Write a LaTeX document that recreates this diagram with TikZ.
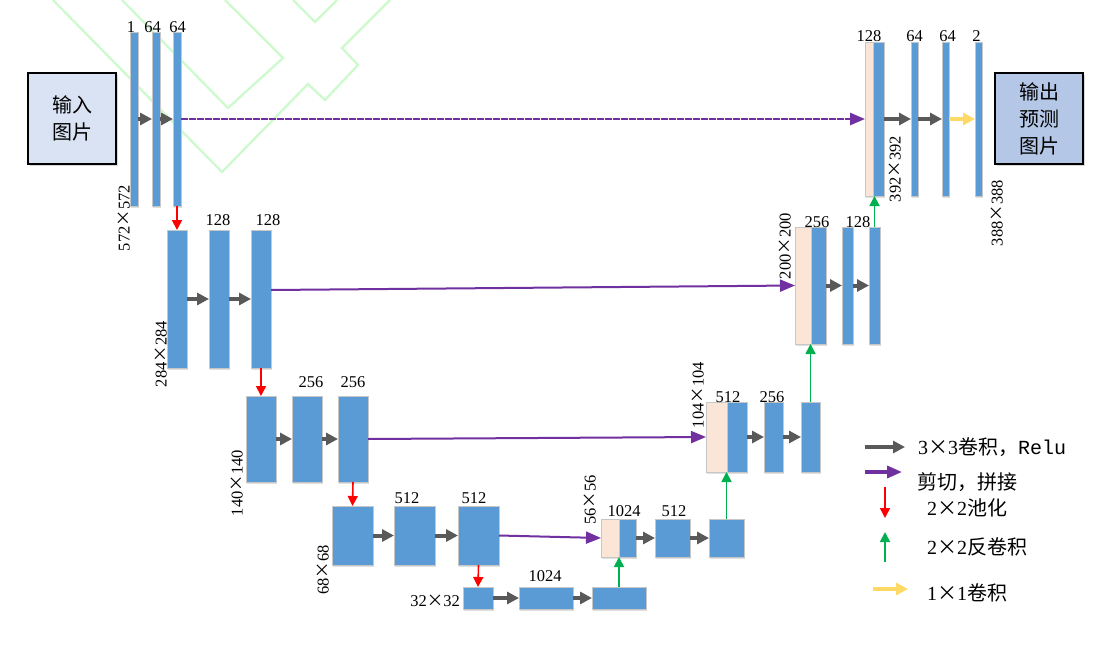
\documentclass[tikz,border=0pt]{standalone}
\usepackage{fontspec}
\setmainfont{Liberation Serif}
\newfontfamily\cjk{Noto Sans CJK SC}
\newfontfamily\monof{Liberation Mono}
\usetikzlibrary{arrows.meta,fit,shadows}
\definecolor{barblue}{HTML}{5B9BD5}
\definecolor{peach}{HTML}{FBE5D6}
\definecolor{convgray}{HTML}{595959}
\definecolor{cpurple}{HTML}{7030A0}
\definecolor{pgreen}{HTML}{00B050}
\definecolor{pyellow}{HTML}{FFD966}
\definecolor{pred}{HTML}{FF0000}
\definecolor{inboxc}{HTML}{DAE3F3}
\definecolor{outboxc}{HTML}{B4C7E7}
\definecolor{bggreen}{HTML}{CCFACC}
\newcommand\tms{{\cjk ×}}
\tikzset{
  bar/.style={fill=barblue, draw=black!22, line width=0.9pt, inner sep=0pt, outer sep=0pt,
    drop shadow={shadow xshift=1pt, shadow yshift=-1.5pt, opacity=0.25}},
  cropbar/.style={bar, fill=peach},
  conv/.style={draw=convgray, line width=4pt, -{Triangle[length=12pt,width=12pt]}},
  skipc/.style={draw=cpurple, line width=2pt, -{Triangle[length=15pt,width=12pt]}},
  skipd/.style={skipc, line width=2.6pt, dash pattern=on 7pt off 1pt},
  pool/.style={draw=pred, line width=1.6pt, -{Triangle[length=10pt,width=10pt]}},
  upc/.style={draw=pgreen, line width=1.8pt, -{Triangle[length=10pt,width=10pt]}},
  onec/.style={draw=pyellow, line width=3.5pt, -{Triangle[length=12pt,width=12pt]}},
  num/.style={font=\fontsize{16.5}{19}\selectfont, inner sep=0pt, anchor=base},
  dimlab/.style={font=\fontsize{16.5}{19}\selectfont, inner sep=0pt, rotate=90},
  legtext/.style={font=\fontsize{20}{23}\selectfont, inner sep=0pt, anchor=west},
  iobox/.style={draw=black, line width=2pt, minimum width=88pt, minimum height=91pt,
    inner sep=0pt, align=center, font=\cjk\fontsize{20}{27}\selectfont,
    drop shadow={shadow xshift=1.5pt, shadow yshift=-1.5pt, opacity=0.3}},
  bgline/.style={draw=bggreen, line width=2.2pt}
}
\begin{document}
\begin{tikzpicture}[x=1pt,y=-1pt]
\useasboundingbox[fill=white] (0,0) rectangle (1106,653);
% background decoration
\draw[bgline] (53,0) -- (222,172) -- (308,84) -- (325,100) -- (358,65) -- (342,48) -- (390,0);
\draw[bgline] (122,0) -- (228,108) -- (283,58) -- (225,0);
\draw[bgline] (293,0) -- (315,22) -- (337,0);

% input / output boxes
\node[iobox, fill=inboxc] (in) at (72,118.5) {输入\\图片};
\node[iobox, fill=outboxc] (out) at (1039,118.5) {输出\\预测\\图片};

% level 1
\node[bar, fit={(130,32) (138,206)}] (a1) {};
\node[bar, fit={(152,32) (160,206)}] (a2) {};
\node[bar, fit={(173,32) (181,206)}] (a3) {};
% level 2
\node[bar, fit={(167,230) (187,368)}] (b1) {};
\node[bar, fit={(209,230) (229,368)}] (b2) {};
\node[bar, fit={(251,230) (271,368)}] (b3) {};
% level 3
\node[bar, fit={(246,396) (276,482)}] (c1) {};
\node[bar, fit={(292,396) (322,482)}] (c2) {};
\node[bar, fit={(338,396) (368,482)}] (c3) {};
% level 4
\node[bar, fit={(332,506) (373,565)}] (d1) {};
\node[bar, fit={(394,506) (435,565)}] (d2) {};
\node[bar, fit={(458,506) (499,565)}] (d3) {};
% level 5
\node[bar, fit={(463,587) (493,609)}] (e1) {};
\node[bar, fit={(519,587) (573,609)}] (e2) {};
\node[bar, fit={(592,587) (646,609)}] (e3) {};
% up 4
\node[cropbar, fit={(601,519) (619,557)}] (u4c) {};
\node[bar, fit={(619,519) (636,557)}] (u4b) {};
\node[bar, fit={(655,519) (690,557)}] (u4b2) {};
\node[bar, fit={(709,519) (744,557)}] (u4b3) {};
% up 3
\node[cropbar, fit={(706,402) (727,472)}] (u3c) {};
\node[bar, fit={(727,402) (747,472)}] (u3b) {};
\node[bar, fit={(764,402) (783,472)}] (u3b2) {};
\node[bar, fit={(801,402) (820,472)}] (u3b3) {};
% up 2
\node[cropbar, fit={(795,227) (811,344)}] (u2c) {};
\node[bar, fit={(811,227) (826,344)}] (u2b) {};
\node[bar, fit={(842,227) (853,344)}] (u2b2) {};
\node[bar, fit={(869,227) (880,344)}] (u2b3) {};
% up 1
\node[cropbar, fit={(865,42) (873,196)}] (u1c) {};
\node[bar, fit={(873,42) (884,196)}] (u1b) {};
\node[bar, fit={(911,42) (918,196)}] (u1b2) {};
\node[bar, fit={(942,42) (949,196)}] (u1b3) {};
\node[bar, fit={(975,42) (982,196)}] (u1b4) {};

% conv arrows
\draw[conv] (a1.east) -- (a2.west);
\draw[conv] (a2.east) -- (a3.west);
\draw[conv] (b1.east) -- (b2.west);
\draw[conv] (b2.east) -- (b3.west);
\draw[conv] (c1.east) -- (c2.west);
\draw[conv] (c2.east) -- (c3.west);
\draw[conv] (d1.east) -- (d2.west);
\draw[conv] (d2.east) -- (d3.west);
\draw[conv] (e1.east) -- (e2.west);
\draw[conv] (e2.east) -- (e3.west);
\draw[conv] (u4b.east) -- (u4b2.west);
\draw[conv] (u4b2.east) -- (u4b3.west);
\draw[conv] (u3b.east) -- (u3b2.west);
\draw[conv] (u3b2.east) -- (u3b3.west);
\draw[conv] (u2b.east) -- (u2b2.west);
\draw[conv] (u2b2.east) -- (u2b3.west);
\draw[conv] (u1b.east) -- (u1b2.west);
\draw[conv] (u1b2.east) -- (u1b3.west);
\draw[onec] (u1b3.east) -- (u1b4.west);

% skip connections
\draw[skipd] (a3.east) -- (u1c.west);
\draw[skipc] ([yshift=9pt]b3.east) -- (u2c.west);
\draw[skipc] (c3.east) -- (u3c.west);
\draw[skipc] (d3.east) -- (u4c.west);

% pooling
\draw[pool] (a3.south) -- (b1.north);
\draw[pool] (b3.south) -- (c1.north);
\draw[pool] (c3.south) -- (d1.north);
\draw[pool] (d3.south) -- (e1.north);

% up-convolutions
\draw[upc] (e3.north) -- (e3.north |- u4c.south);
\draw[upc] (u4b3.north) -- (u4b3.north |- u3c.south);
\draw[upc] (u3b3.north) -- (u3b3.north |- u2c.south);
\draw[upc] (u2b3.north) -- (u2b3.north |- u1c.south);

% channel labels
\node[num] (n1) at (131,32) {1};
\node[num] (n2) at (152.5,32) {64};
\node[num] (n3) at (177.5,32) {64};
\node[num] (n4) at (218,225) {128};
\node[num] (n5) at (268,225) {128};
\node[num] (n6) at (311,387) {256};
\node[num] (n7) at (353,387) {256};
\node[num] (n8) at (407,503) {512};
\node[num] (n9) at (474,503) {512};
\node[num] (n10) at (545,581) {1024};
\node[num] (n11) at (624,516) {1024};
\node[num] (n12) at (674,516) {512};
\node[num] (n13) at (728,402) {512};
\node[num] (n14) at (772,402) {256};
\node[num] (n15) at (817,227) {256};
\node[num] (n16) at (858,227) {128};
\node[num] (n17) at (869,41) {128};
\node[num] (n18) at (914.5,41) {64};
\node[num] (n19) at (947.5,41) {64};
\node[num] (n20) at (976.5,41) {2};

% size labels
\node[dimlab] (s1) at (124,218) {572\tms572};
\node[dimlab] (s2) at (161,354) {284\tms284};
\node[dimlab] (s3) at (237,483) {140\tms140};
\node[dimlab] (s4) at (323,570) {68\tms68};
\node[num, anchor=center] (s5) at (435,601) {32\tms32};
\node[dimlab] (s6) at (590,500) {56\tms56};
\node[dimlab] (s7) at (698,395) {104\tms104};
\node[dimlab] (s8) at (785,246) {200\tms200};
\node[dimlab] (s9) at (895,169) {392\tms392};
\node[dimlab] (s10) at (997,213) {388\tms388};

% legend
\coordinate (l1a) at (865,447); \coordinate (l1b) at (905,447);
\coordinate (l2a) at (865,472); \coordinate (l2b) at (902,472);
\coordinate (l3a) at (885,487); \coordinate (l3b) at (885,518);
\coordinate (l4a) at (885,562); \coordinate (l4b) at (885,532);
\coordinate (l5a) at (873,589); \coordinate (l5b) at (908,589);
\draw[conv] (l1a) -- (l1b);
\draw[skipc, line width=3.5pt] (l2a) -- (l2b);
\draw[pool] (l3a) -- (l3b);
\draw[upc] (l4a) -- (l4b);
\draw[onec] (l5a) -- (l5b);
\node[legtext] (t1) at (918,447) {3\tms3{\cjk 卷积，}{\monof Relu}};
\node[legtext] (t2) at (917,482) {\cjk 剪切，拼接};
\node[legtext] (t3) at (927,508) {2\tms2{\cjk 池化}};
\node[legtext] (t4) at (927,547) {2\tms2{\cjk 反卷积}};
\node[legtext] (t5) at (927,593) {1\tms1{\cjk 卷积}};
\end{tikzpicture}
\end{document}
